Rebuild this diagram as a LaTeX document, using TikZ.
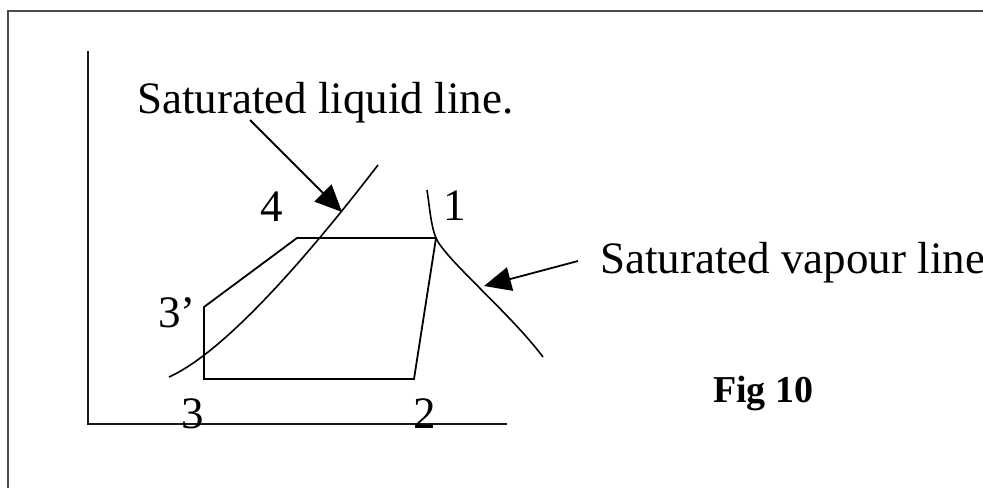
\documentclass[tikz,border=0pt]{standalone}
\usepackage{fontspec}
\setmainfont{Liberation Serif}
\usetikzlibrary{arrows.meta}
\begin{document}
\begin{tikzpicture}[x=1pt,y=-1pt,
  frameline/.style={draw=black!70,line width=2.2pt},
  axisline/.style={draw=black!90,line width=2pt},
  cycleline/.style={draw=black,line width=1.8pt,line join=miter},
  satcurve/.style={draw=black,line width=1.6pt},
  pointer/.style={draw=black,line width=1.8pt,-{Triangle[length=27pt,width=24pt]}},
  biglabel/.style={inner sep=0pt,font=\fontsize{45}{50}\selectfont},
  figlabel/.style={inner sep=0pt,font=\fontsize{38}{42}\selectfont\bfseries}]
\useasboundingbox (0,0) rectangle (983,488);
% frame
\draw[frameline] (983,11) -- (8,11) -- (8,488);
% axes
\coordinate (ytop) at (88,51);
\coordinate (orig) at (88,424);
\coordinate (xend) at (507,424);
\draw[axisline] (ytop) -- (orig) -- (xend);
% cycle points
\coordinate (p3) at (204,379);
\coordinate (p3p) at (204,307);
\coordinate (p4) at (297,238);
\coordinate (p1) at (436,238);
\coordinate (p2) at (414,379);
\draw[cycleline] (p3) -- (p3p) -- (p4) -- (p1) -- (p2) -- cycle;
% saturation curves
\coordinate (liqA) at (169,377);
\coordinate (liqB) at (378,165);
\draw[satcurve] (liqA) .. controls (229,350) and (318,243) .. (liqB);
\coordinate (vapA) at (427,190);
\coordinate (vapB) at (543,357);
\draw[satcurve] (vapA) .. controls (430,210) and (431,226) .. (p1)
  .. controls (445,259) and (510,313) .. (vapB);
% labels
\node[biglabel,anchor=base west] (liqtext) at (137,113) {Saturated liquid line.};
\node[biglabel,anchor=base west] (vaptext) at (600,273) {Saturated vapour line};
\node[biglabel,anchor=base] (l4) at (272,221) {4};
\node[biglabel,anchor=base] (l1) at (455,220) {1};
\node[biglabel,anchor=base west] (l3p) at (158,327) {3’};
\node[biglabel,anchor=base] (l3) at (193,428) {3};
\node[biglabel,anchor=base] (l2) at (425,428) {2};
\node[figlabel,anchor=base west] (fig) at (713,402) {Fig 10};
% pointers
\coordinate (liqfrom) at (250,120);
\coordinate (liqto) at (342,212);
\coordinate (vapfrom) at (578,261);
\coordinate (vapto) at (484,286);
\draw[pointer] (liqfrom) -- (liqto);
\draw[pointer] (vapfrom) -- (vapto);
\end{tikzpicture}
\end{document}
